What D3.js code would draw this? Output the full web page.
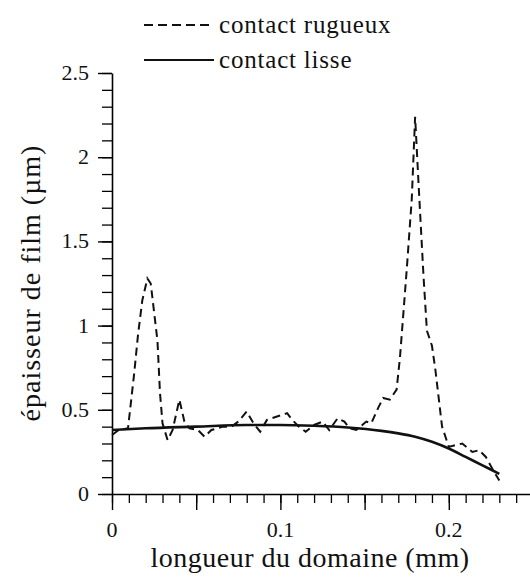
<!DOCTYPE html>
<meta charset="utf-8">
<svg width="530" height="579"></svg>
<script src="https://d3js.org/d3.v7.min.js"></script>
<script>

// courbe "contact rugueux" (pointillés)
var roughX = [0, 0.004, 0.0095, 0.013, 0.0155, 0.018, 0.021, 0.023, 0.027, 0.0285, 0.030, 0.033, 0.036, 0.040,
  0.043, 0.046, 0.051, 0.055, 0.059, 0.066, 0.071, 0.075, 0.080, 0.084, 0.088, 0.092, 0.098, 0.104, 0.107,
  0.111, 0.115, 0.120, 0.125, 0.129, 0.134, 0.138, 0.141, 0.145, 0.151, 0.154, 0.158, 0.161, 0.165, 0.169,
  0.171, 0.173, 0.175, 0.178, 0.180, 0.182, 0.185, 0.187, 0.190, 0.192, 0.196, 0.200, 0.204, 0.208, 0.214,
  0.218, 0.222, 0.227, 0.230];
var roughY = [0.35, 0.38, 0.39, 0.70, 0.95, 1.15, 1.28, 1.25, 0.91, 0.60, 0.42, 0.32, 0.38, 0.56,
  0.43, 0.39, 0.38, 0.34, 0.38, 0.40, 0.40, 0.43, 0.49, 0.42, 0.37, 0.44, 0.46, 0.48, 0.44,
  0.40, 0.37, 0.41, 0.43, 0.38, 0.45, 0.43, 0.39, 0.38, 0.43, 0.42, 0.51, 0.57, 0.56, 0.62,
  0.81, 1.07, 1.33, 1.75, 2.24, 1.85, 1.29, 0.97, 0.88, 0.74, 0.40, 0.28, 0.29, 0.30, 0.25,
  0.26, 0.22, 0.13, 0.08];

// courbe "contact lisse" (trait plein)
var smoothX = [0, 0.02, 0.05, 0.08, 0.10, 0.12, 0.14, 0.16, 0.17, 0.18, 0.19, 0.20, 0.21, 0.22, 0.23];
var smoothY = [0.38, 0.39, 0.40, 0.41, 0.41, 0.405, 0.395, 0.375, 0.36, 0.34, 0.31, 0.27, 0.22, 0.17, 0.12];

var xLabels = [0, 0.1, 0.2];
var yLabels = [0, 0.5, 1, 1.5, 2, 2.5];
var legendLabels = ["contact rugueux", "contact lisse"];

var FONT = "'Liberation Serif', 'Times New Roman', Tinos, serif";

d3.select("body").style("margin", "0").style("background", "#fff");
var svg = d3.select("svg").style("display", "block");

// police serif forcée sur chaque texte
function serif(sel, size) {
  sel.style("font-family", FONT, "important")
     .style("font-size", size + "px", "important")
     .attr("fill", "#111");
}

var x = d3.scaleLinear().domain([0, 0.25]).range([112, 533]);
var y = d3.scaleLinear().domain([0, 2.5]).range([494, 73]);

// axe x : petites graduations tous les 0.01, grandes tous les 0.05
var xMinor = d3.range(0, 0.2501, 0.01);
var xMajor = d3.range(0, 0.2501, 0.05);

svg.append("g")
    .attr("transform", "translate(0,494)")
    .call(d3.axisBottom(x).tickValues(xMinor).tickSize(9).tickFormat(""))
    .call(function(g) { g.select(".domain").remove(); g.selectAll("line").attr("stroke-width", 1.3); });

var xAxis = svg.append("g")
    .attr("transform", "translate(0,494)")
    .call(d3.axisBottom(x).tickValues(xMajor).tickSize(16).tickSizeOuter(0).tickFormat(""));
xAxis.select(".domain").attr("stroke-width", 1.6);
xAxis.selectAll("line").attr("stroke-width", 1.4);

// étiquettes de l'axe x
xLabels.forEach(function(v) {
  svg.append("text")
      .attr("x", x(v)).attr("y", 537)
      .attr("text-anchor", "middle")
      .call(serif, 22)
      .text(String(v));
});

// axe y
svg.append("g")
    .attr("transform", "translate(112,0)")
    .call(d3.axisLeft(y).ticks(25).tickSize(10).tickFormat(""))
    .call(function(g) { g.select(".domain").remove(); g.selectAll("line").attr("stroke-width", 1.3); });

var yAxis = svg.append("g")
    .attr("transform", "translate(112,0)")
    .call(d3.axisLeft(y).tickValues(yLabels).tickSize(14).tickSizeOuter(0).tickFormat(""));
yAxis.select(".domain").attr("stroke-width", 1.6);
yAxis.selectAll("line").attr("stroke-width", 1.4);

yLabels.forEach(function(v) {
  svg.append("text")
      .attr("x", 89).attr("y", y(v) + 7)
      .attr("text-anchor", "end")
      .call(serif, 22)
      .text(String(v));
});

// courbes
var line = d3.line()
    .x(function(d) { return x(d[0]); })
    .y(function(d) { return y(d[1]); });

svg.append("path")
    .datum(d3.zip(smoothX, smoothY))
    .attr("fill", "none")
    .attr("stroke", "#111")
    .attr("stroke-width", 2.6)
    .attr("d", line.curve(d3.curveMonotoneX));

svg.append("path")
    .datum(d3.zip(roughX, roughY))
    .attr("fill", "none")
    .attr("stroke", "#111")
    .attr("stroke-width", 2)
    .attr("stroke-dasharray", "8,5")
    .attr("d", line.curve(d3.curveLinear));

// légende
legendLabels.forEach(function(lab, i) {
  var ly = 25 + i * 35;
  svg.append("line")
      .attr("x1", 144).attr("x2", i === 0 ? 210 : 214)
      .attr("y1", ly).attr("y2", ly)
      .attr("stroke", "#111")
      .attr("stroke-width", 2)
      .attr("stroke-dasharray", i === 0 ? "9,5" : null);
  svg.append("text")
      .attr("x", 219).attr("y", ly + 8)
      .attr("letter-spacing", 0.8)
      .call(serif, 25)
      .text(lab);
});

// titres des axes
svg.append("text")
    .attr("x", 310).attr("y", 567)
    .attr("text-anchor", "middle")
    .attr("letter-spacing", 0.5)
    .call(serif, 28)
    .text("longueur du domaine (mm)");

svg.append("text")
    .attr("transform", "translate(40,283) rotate(-90)")
    .attr("text-anchor", "middle")
    .attr("letter-spacing", 1)
    .call(serif, 28)
    .text("épaisseur de film (µm)");

</script>
